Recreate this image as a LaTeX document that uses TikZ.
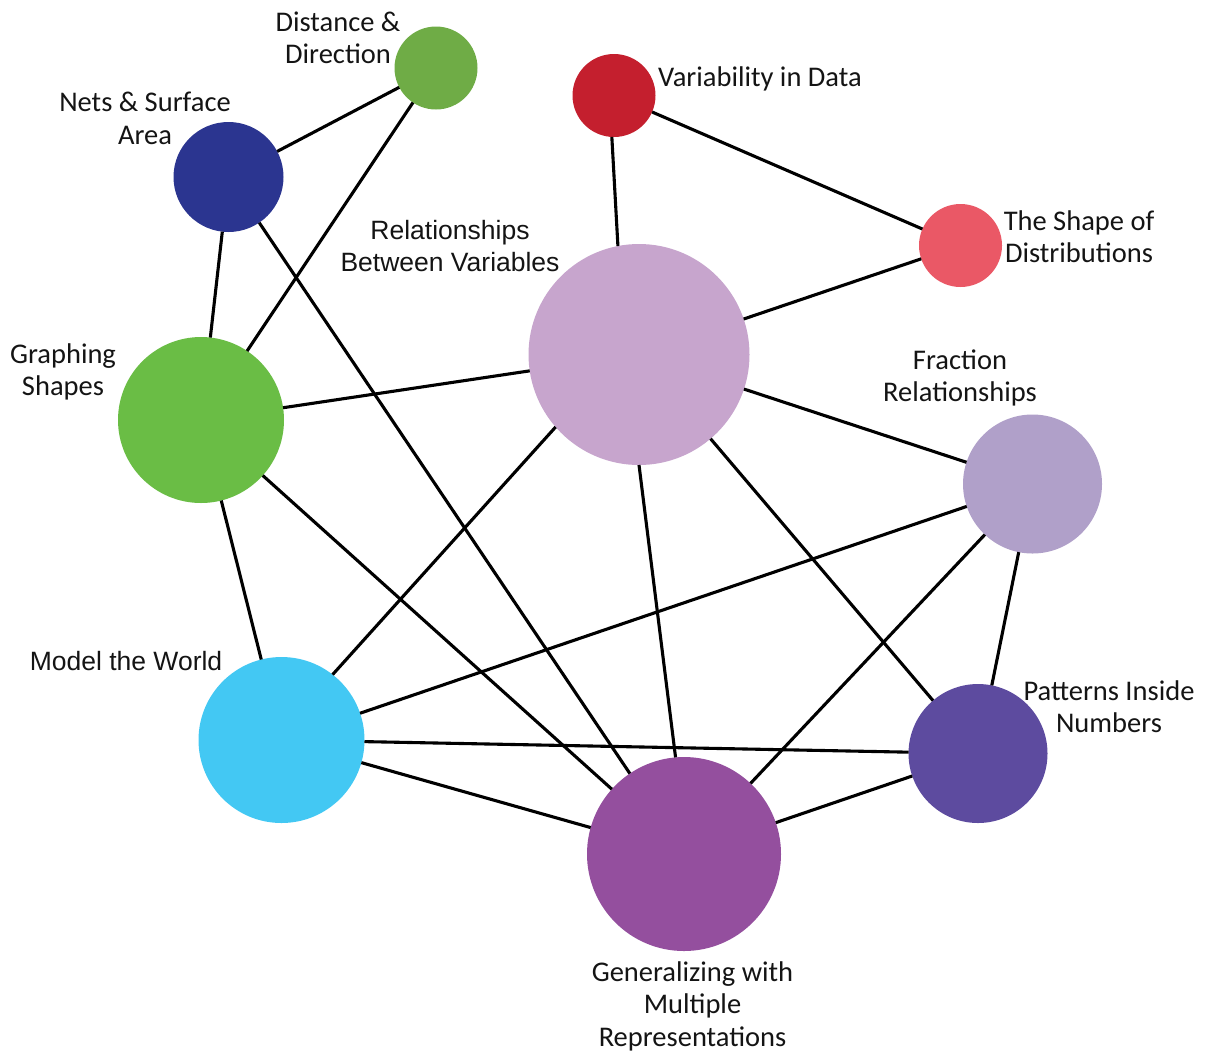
\documentclass[tikz,border=0pt]{standalone}
\usepackage{fontspec}
\newfontfamily\labfont{Carlito}
\newfontfamily\arlfont{Liberation Sans}
\definecolor{cdist}{HTML}{6FAC46}
\definecolor{cnets}{HTML}{2B3590}
\definecolor{cvar}{HTML}{C41F2E}
\definecolor{cshape}{HTML}{EA5866}
\definecolor{crel}{HTML}{C7A5CD}
\definecolor{cgraph}{HTML}{6ABD45}
\definecolor{cfrac}{HTML}{B0A0C9}
\definecolor{cmodel}{HTML}{43C8F3}
\definecolor{cpat}{HTML}{5D4B9F}
\definecolor{cgen}{HTML}{944F9E}
\definecolor{ctext}{HTML}{141414}
\begin{document}
\begin{tikzpicture}[x=1pt,y=-1pt,
  topic/.style={circle,inner sep=0pt,outer sep=0pt,draw=none},
  link/.style={line width=3.1pt,black},
  lab/.style={inner sep=0pt,align=center,text=ctext,font=\labfont\fontsize{28.5}{32.5}\selectfont},
  arl/.style={inner sep=0pt,align=center,text=ctext,font=\arlfont\fontsize{26.5}{32.5}\selectfont}]
\useasboundingbox (0,0) rectangle (1206,1053);
% circles
\node[topic,fill=cdist,minimum size=83pt] (dist) at (436,68) {};
\node[topic,fill=cnets,minimum size=110pt] (nets) at (228.5,177) {};
\node[topic,fill=cvar,minimum size=83pt] (var) at (614,95.5) {};
\node[topic,fill=cshape,minimum size=83pt] (shape) at (960.5,245.5) {};
\node[topic,fill=crel,minimum size=221pt] (rel) at (639,354.5) {};
\node[topic,fill=cgraph,minimum size=166pt] (graph) at (201,420) {};
\node[topic,fill=cfrac,minimum size=139pt] (frac) at (1032.5,484) {};
\node[topic,fill=cmodel,minimum size=166pt] (model) at (281.5,740) {};
\node[topic,fill=cpat,minimum size=139pt] (pat) at (978,753.5) {};
\node[topic,fill=cgen,minimum size=194pt] (gen) at (684,854) {};
% connectors
\draw[link] (dist) -- (nets);
\draw[link] (dist) -- (graph);
\draw[link] (nets) -- (graph);
\draw[link] (nets) -- (gen);
\draw[link] (var.-93) -- (rel.101);
\draw[link] (var) -- (shape);
\draw[link] (shape) -- (rel);
\draw[link] (graph) -- (rel);
\draw[link] (graph) -- (model);
\draw[link] (graph) -- (gen);
\draw[link] (rel.221) -- (model.52);
\draw[link] (rel.-90.5) -- (gen.95);
\draw[link] (rel) -- (frac);
\draw[link] (rel) -- (pat);
\draw[link] (frac) -- (model);
\draw[link] (frac) -- (pat);
\draw[link] (frac) -- (gen);
\draw[link] (model) -- (pat);
\draw[link] (model) -- (gen);
\draw[link] (gen) -- (pat);
% labels
\node[lab] (tdist) at (338,38) {Distance \&\\Direction};
\node[lab] (tnets) at (145,118.5) {Nets \& Surface\\Area};
\node[lab,anchor=west] (tvar) at (658,79) {Variability in Data};
\node[lab] (tshape) at (1079,236.5) {The Shape of\\Distributions};
\node[arl] (trel) at (450,246) {Relationships\\Between Variables};
\node[lab] (tgraph) at (63,372) {Graphing\\Shapes};
\node[lab] (tfrac) at (960,378) {Fraction\\Relationships};
\node[arl] (tmodel) at (126,661.5) {Model the World};
\node[lab] (tpat) at (1109,706.5) {Patterns Inside\\Numbers};
\node[lab] (tgen) at (692.5,1006) {Generalizing with\\Multiple\\Representations};
\end{tikzpicture}
\end{document}
